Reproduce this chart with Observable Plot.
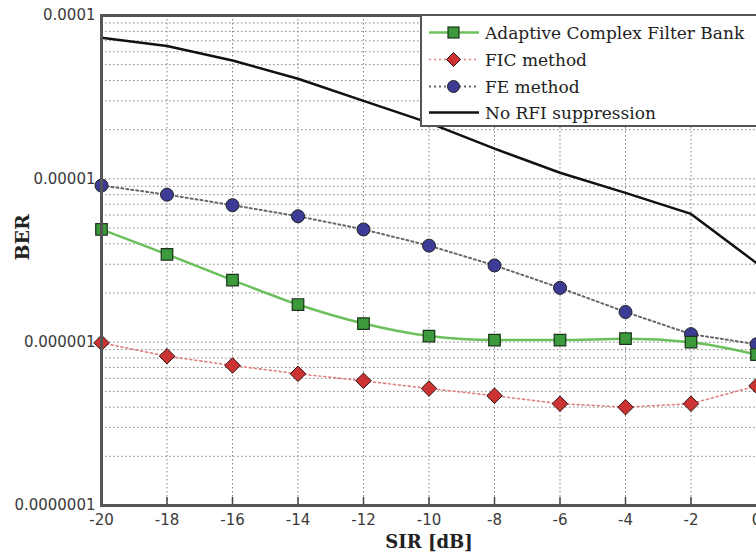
<!DOCTYPE html>
<html><head><meta charset="utf-8">
<script src="https://cdn.jsdelivr.net/npm/d3@7"></script>
<script src="https://cdn.jsdelivr.net/npm/@observablehq/plot@0.6"></script>
<style>
html,body{margin:0;padding:0;background:#fff;overflow:hidden}
#wrap{position:relative;width:756px;height:559px}
#legend{position:absolute;left:420px;top:14px;width:340px;height:113px;background:#fff;border:2px solid #555;box-sizing:border-box;font-family:"DejaVu Serif",serif;font-size:17px;color:#222}
.row{position:absolute;left:6px;height:22px;display:flex;align-items:center;white-space:nowrap}
.row svg{margin-right:5px}
</style></head><body>
<div id="wrap"><div id="chart"></div><div id="legend"></div></div>
<script>
const sir = [-20,-18,-16,-14,-12,-10,-8,-6,-4,-2,0];
const acfb = [4.9e-6,3.45e-6,2.4e-6,1.7e-6,1.3e-6,1.09e-6,1.03e-6,1.03e-6,1.05e-6,1.0e-6,8.4e-7];
const fic  = [9.9e-7,8.2e-7,7.2e-7,6.4e-7,5.8e-7,5.2e-7,4.7e-7,4.2e-7,4.0e-7,4.2e-7,5.4e-7];
const fe   = [9.1e-6,8.0e-6,6.9e-6,5.9e-6,4.9e-6,3.9e-6,2.95e-6,2.15e-6,1.53e-6,1.12e-6,9.7e-7];
const noRfi= [7.3e-5,6.5e-5,5.3e-5,4.1e-5,3.0e-5,2.2e-5,1.53e-5,1.09e-5,8.2e-6,6.1e-6,3.05e-6];
const seriesNames = ["Adaptive Complex Filter Bank","FIC method","FE method","No RFI suppression"];
const xTicks = [-20,-18,-16,-14,-12,-10,-8,-6,-4,-2,0];
const yTicks = [1e-7,1e-6,1e-5,1e-4];
const yTickLabels = ["0.0000001","0.000001","0.00001","0.0001"];

const yGrid = [];
for (const dec of [1e-7,1e-6,1e-5]) for (let k=1;k<=9;k++) yGrid.push(dec*k);
yGrid.push(1e-4);
const xGrid = xTicks.slice(1, -1);

const rows = (vals) => sir.map((x,i)=>({x, y: vals[i]}));
const dA = rows(acfb), dF = rows(fic), dE = rows(fe), dN = rows(noRfi);

const grid = {stroke:"#777", strokeWidth:1, strokeDasharray:"1.5,2.5", strokeOpacity:0.9};
const chart = Plot.plot({
  width:756, height:559,
  marginLeft:101, marginRight:0, marginTop:15, marginBottom:54,
  style:{background:"#fff", overflow:"hidden"},
  x:{domain:[-20,0]},
  y:{type:"log", domain:[1e-7,1e-4]},
  marks:[
    Plot.ruleY(yGrid, grid),
    Plot.ruleX(xGrid, grid),
    Plot.axisX({ticks:xTicks, tickSize:0, tickPadding:9, fontSize:15, fill:"#3a3a3a", fontFamily:"DejaVu Sans", tickFormat:d=>String(d), label:null}),
    Plot.axisY({ticks:yTicks, tickSize:0, tickPadding:6, fontSize:15, fill:"#3a3a3a", fontFamily:"DejaVu Sans", tickFormat:d=>yTickLabels[yTicks.indexOf(d)], label:null}),
    Plot.ruleX(xGrid, {y1:1e-7, y2:1.12e-7, stroke:"#444", strokeWidth:1.5}),
    Plot.line(dN, {x:"x", y:"y", stroke:"#111", strokeWidth:2.5}),
    Plot.line(dE, {x:"x", y:"y", stroke:"#666", strokeWidth:2, strokeDasharray:"2,3"}),
    Plot.line(dF, {x:"x", y:"y", stroke:"#e08080", strokeWidth:1.6, strokeDasharray:"2,3"}),
    Plot.line(dA, {x:"x", y:"y", stroke:"#6cc05c", strokeWidth:2.5, curve:"monotone-x"}),
    Plot.dot(dE, {x:"x", y:"y", r:6.5, fill:"#3c3c96", stroke:"#222", strokeWidth:1}),
    Plot.dot(dF, {x:"x", y:"y", r:7, symbol:"diamond2", fill:"#cc3333", stroke:"#331111", strokeWidth:1}),
    Plot.dot(dA, {x:"x", y:"y", r:6.5, symbol:"square", fill:"#3c9a3c", stroke:"#1a331a", strokeWidth:1.2}),
    Plot.frame({anchor:"left", stroke:"#555", strokeWidth:3}),
    Plot.frame({anchor:"bottom", stroke:"#555", strokeWidth:3}),
    Plot.frame({anchor:"top", stroke:"#555", strokeWidth:3}),
    Plot.text(["SIR [dB]"], {frameAnchor:"bottom", dy:42, fontFamily:"DejaVu Serif", fontWeight:"bold", fontSize:18, fill:"#222"}),
    Plot.text(["BER"], {frameAnchor:"left", dx:-79, rotate:-90, fontFamily:"DejaVu Serif", fontWeight:"bold", fontSize:19, fill:"#222"})
  ]
});
document.getElementById("chart").appendChild(chart);

// legend
const leg = document.getElementById("legend");
const specs = [
  {stroke:"#6cc05c", dash:"", sw:2.5, mark:"sq", fill:"#3c9a3c"},
  {stroke:"#e08080", dash:"2,3", sw:1.6, mark:"di", fill:"#cc3333"},
  {stroke:"#666", dash:"2,3", sw:2, mark:"ci", fill:"#3c3c96"},
  {stroke:"#111", dash:"", sw:2.5, mark:null}
];
const tops = [6, 33, 60, 86];
seriesNames.forEach((name,i)=>{
  const s = specs[i];
  const row = document.createElement("div");
  row.className = "row"; row.style.top = tops[i]+"px";
  let m = "";
  if (s.mark==="sq") m = `<rect x="20" y="4" width="11" height="11" fill="${s.fill}" stroke="#1a331a" stroke-width="1.2"/>`;
  if (s.mark==="di") m = `<path d="M25.5,2.5L32.5,9.5L25.5,16.5L18.5,9.5Z" fill="${s.fill}" stroke="#331111"/>`;
  if (s.mark==="ci") m = `<circle cx="25.5" cy="9.5" r="6" fill="${s.fill}" stroke="#222"/>`;
  row.innerHTML = `<svg width="52" height="20"><line x1="1" x2="51" y1="9.5" y2="9.5" stroke="${s.stroke}" stroke-width="${s.sw}" stroke-dasharray="${s.dash}"/>${m}</svg><span>${name}</span>`;
  leg.appendChild(row);
});
</script>
</body></html>
